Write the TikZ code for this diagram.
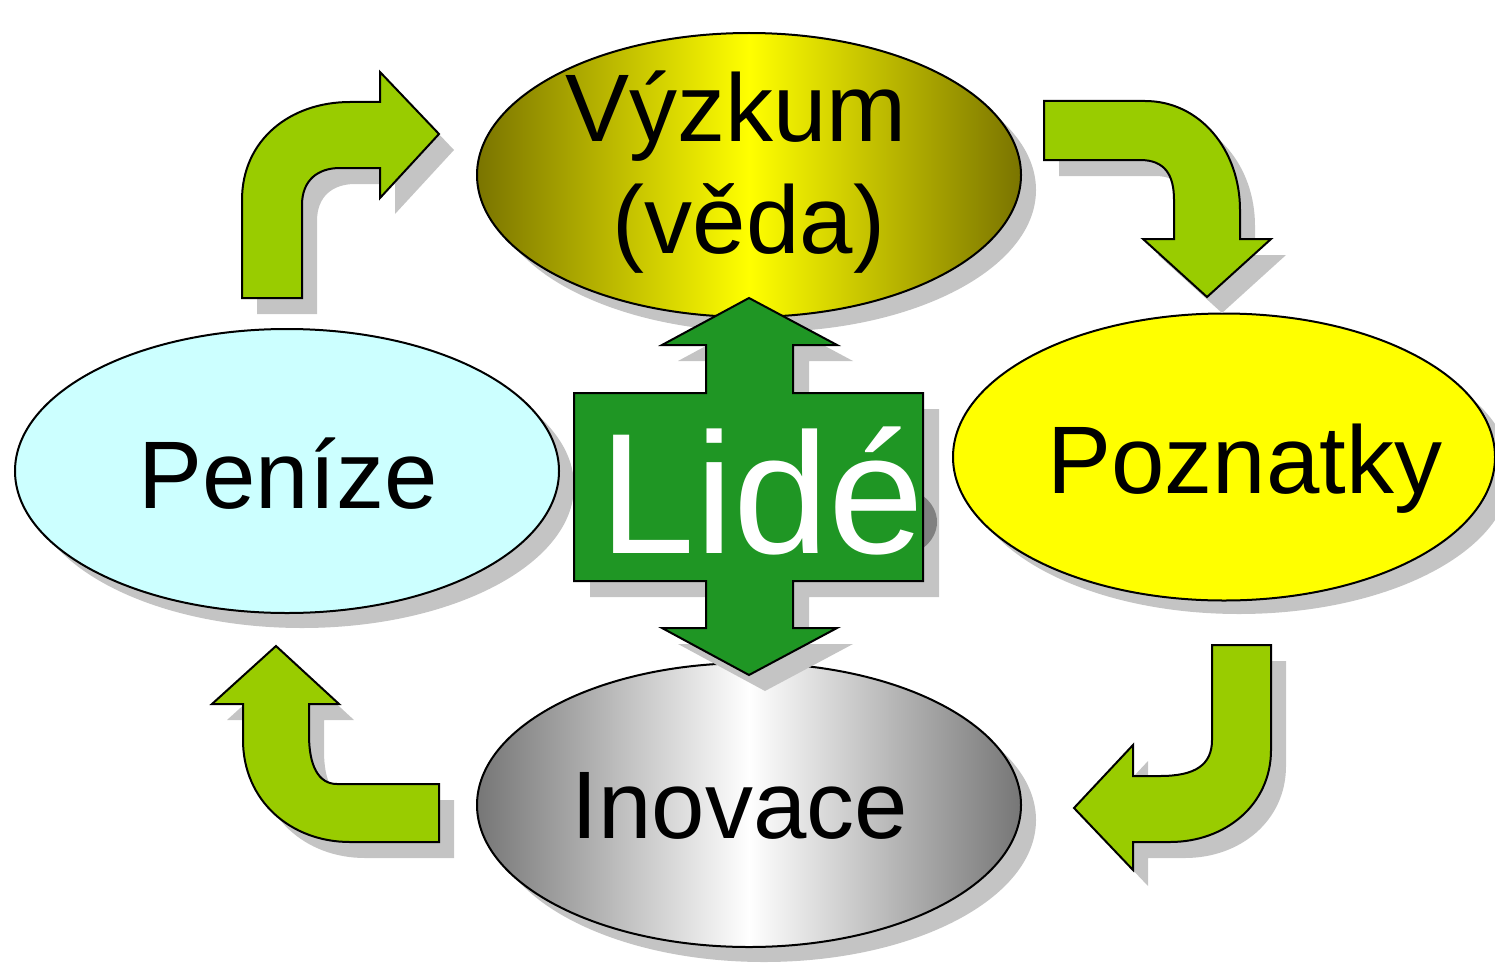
\documentclass[tikz,border=0pt]{standalone}
\usepackage{fontspec}
\setmainfont{Liberation Sans}
\usetikzlibrary{shapes.geometric}
\definecolor{olivedk}{RGB}{122,116,0}
\definecolor{ylw}{RGB}{255,255,0}
\definecolor{cyanlt}{RGB}{204,255,255}
\definecolor{grn}{RGB}{31,150,36}
\definecolor{lime}{RGB}{153,204,0}
\definecolor{shd}{RGB}{196,196,196}
\definecolor{gryedge}{RGB}{118,118,118}
\begin{document}
\begin{tikzpicture}[x=1pt,y=-1pt,
  ell/.style={ellipse,draw=black,line width=2pt,inner sep=0pt,minimum width=544pt,minimum height=284pt},
  shadowell/.style={ellipse,fill=shd,inner sep=0pt,minimum width=544pt,minimum height=284pt},
  lbl/.style={anchor=base,inner sep=0pt,font=\fontsize{96}{112}\selectfont},
  curvarrow/.style={fill=lime,draw=black,line width=2pt,line join=miter},
  shadowshape/.style={fill=shd},
  bigarrow/.style={fill=grn,draw=black,line width=2pt,line join=miter}]
\useasboundingbox (0,0) rectangle (1495,963);
% ellipse shadows
\node[shadowell] (vs) at (764,190) {};
\node[shadowell] (ps) at (1239,472) {};
\node[shadowell] (ms) at (302,486) {};
\node[shadowell] (is) at (764,820) {};
% ellipses
\node[ell,left color=olivedk,right color=olivedk,middle color=ylw] (vyzkum) at (749,175) {};
\node[ell,fill=ylw,minimum width=542pt,minimum height=287pt] (poznatky) at (1224,457) {};
\node[ell,fill=cyanlt] (penize) at (287,471) {};
\node[ell,left color=gryedge,right color=gryedge,middle color=white] (inovace) at (749,805) {};
% labels
\node[lbl] (t1) at (736,141) {Výzkum};
\node[lbl] (t2) at (749,253) {(věda)};
\node[lbl] (t3) at (1245,493) {Poznatky};
\node[lbl] (t4) at (288,508) {Peníze};
\node[lbl] (t5) at (740,838) {Inovace};
% curved arrow shadows
\begin{scope}[shift={(15,16)}]
\fill[shadowshape] (242,298) -- (242,200) .. controls (242,140) and (290,102) .. (350,102) -- (380,102) -- (380,72) -- (439,134) -- (380,198) -- (380,168) -- (340,168) .. controls (318,168) and (302,180) .. (302,205) -- (302,298) -- cycle;
\fill[shadowshape] (1044,101) -- (1145,101) .. controls (1200,101) and (1240,150) .. (1240,210) -- (1240,239) -- (1271,239) -- (1207,297) -- (1143,239) -- (1174,239) -- (1174,200) .. controls (1174,175) and (1165,160) .. (1140,160) -- (1044,160) -- cycle;
\fill[shadowshape] (1212,645) -- (1271,645) -- (1271,750) .. controls (1271,805) and (1225,842) .. (1170,842) -- (1133,842) -- (1133,870) -- (1074,808) -- (1133,745) -- (1133,776) -- (1160,776) .. controls (1195,776) and (1212,765) .. (1212,740) -- cycle;
\fill[shadowshape] (439,784) -- (337,784) .. controls (318,784) and (309,765) .. (309,735) -- (309,704) -- (339,704) -- (276,646) -- (212,704) -- (243,704) -- (243,740) .. controls (243,800) and (290,842) .. (350,842) -- (439,842) -- cycle;
\end{scope}
% curved arrows
\draw[curvarrow] (242,298) -- (242,200) .. controls (242,140) and (290,102) .. (350,102) -- (380,102) -- (380,72) -- (439,134) -- (380,198) -- (380,168) -- (340,168) .. controls (318,168) and (302,180) .. (302,205) -- (302,298) -- cycle;
\draw[curvarrow] (1044,101) -- (1145,101) .. controls (1200,101) and (1240,150) .. (1240,210) -- (1240,239) -- (1271,239) -- (1207,297) -- (1143,239) -- (1174,239) -- (1174,200) .. controls (1174,175) and (1165,160) .. (1140,160) -- (1044,160) -- cycle;
\draw[curvarrow] (1212,645) -- (1271,645) -- (1271,750) .. controls (1271,805) and (1225,842) .. (1170,842) -- (1133,842) -- (1133,870) -- (1074,808) -- (1133,745) -- (1133,776) -- (1160,776) .. controls (1195,776) and (1212,765) .. (1212,740) -- cycle;
\draw[curvarrow] (439,784) -- (337,784) .. controls (318,784) and (309,765) .. (309,735) -- (309,704) -- (339,704) -- (276,646) -- (212,704) -- (243,704) -- (243,740) .. controls (243,800) and (290,842) .. (350,842) -- (439,842) -- cycle;
% central double arrow shadow
\fill[shadowshape,shift={(16,16)}] (749,298) -- (837,345) -- (793,345) -- (793,393) -- (923,393) -- (923,581) -- (793,581) -- (793,628) -- (837,628) -- (749,675) -- (662,628) -- (706,628) -- (706,581) -- (574,581) -- (574,393) -- (706,393) -- (706,345) -- (662,345) -- cycle;
% visible part of the text shadow (bowl of the e)
\begin{scope}
\clip (923,470) rectangle (945,570);
\fill[gray] (892,522) ellipse [x radius=45, y radius=36];
\end{scope}
% central double arrow
\draw[bigarrow] (749,298) -- (837,345) -- (793,345) -- (793,393) -- (923,393) -- (923,581) -- (793,581) -- (793,628) -- (837,628) -- (749,675) -- (662,628) -- (706,628) -- (706,581) -- (574,581) -- (574,393) -- (706,393) -- (706,345) -- (662,345) -- cycle;
\node[anchor=base,inner sep=0pt,text=white,font=\fontsize{172}{172}\selectfont] (lide) at (762,553) {Lidé};
\end{tikzpicture}
\end{document}
